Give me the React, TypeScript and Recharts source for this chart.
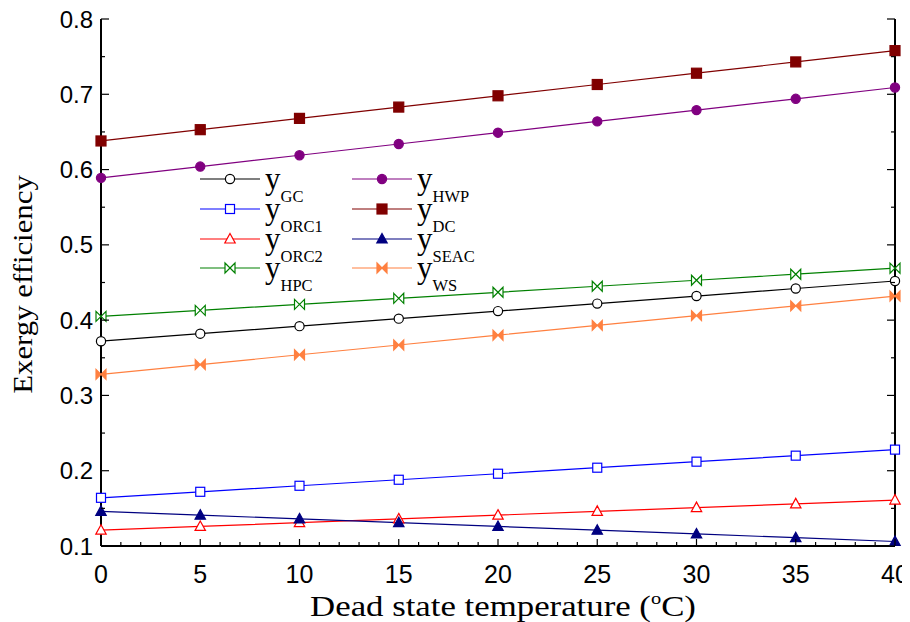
import React from 'react';
import { LineChart, Line, XAxis, YAxis, Legend } from 'recharts';

// values
const temps = [0, 5, 10, 15, 20, 25, 30, 35, 40];
const gc = [0.372, 0.382, 0.392, 0.402, 0.412, 0.422, 0.432, 0.442, 0.452];
const orc1 = [0.164, 0.172, 0.180, 0.188, 0.196, 0.204, 0.212, 0.220, 0.228];
const orc2 = [0.121, 0.126, 0.131, 0.136, 0.141, 0.146, 0.151, 0.156, 0.161];
const hpc = [0.405, 0.413, 0.421, 0.429, 0.437, 0.445, 0.453, 0.461, 0.469];
const hwp = [0.589, 0.604, 0.619, 0.634, 0.649, 0.664, 0.679, 0.694, 0.709];
const dc = [0.638, 0.653, 0.668, 0.683, 0.698, 0.713, 0.728, 0.743, 0.758];
const seac = [0.146, 0.141, 0.136, 0.131, 0.126, 0.121, 0.116, 0.111, 0.106];
const ws = [0.328, 0.341, 0.354, 0.367, 0.380, 0.393, 0.406, 0.419, 0.432];

const xTicks = Array.from({ length: 41 }, (_, i) => i);
const yTicks = [0.1, 0.15, 0.2, 0.25, 0.3, 0.35, 0.4, 0.45, 0.5, 0.55, 0.6, 0.65, 0.7, 0.75, 0.8];

const data = temps.map((t, i) => ({
    t,
    gc: gc[i],
    orc1: orc1[i],
    orc2: orc2[i],
    hpc: hpc[i],
    hwp: hwp[i],
    dc: dc[i],
    seac: seac[i],
    ws: ws[i],
}));

const series = [
    { key: 'gc', sub: 'GC', color: '#000000', shape: 'circleOpen' },
    { key: 'orc1', sub: 'ORC1', color: '#0000FF', shape: 'squareOpen' },
    { key: 'orc2', sub: 'ORC2', color: '#FF0000', shape: 'triOpen' },
    { key: 'hpc', sub: 'HPC', color: '#008000', shape: 'bowOpen' },
    { key: 'hwp', sub: 'HWP', color: '#800080', shape: 'circle' },
    { key: 'dc', sub: 'DC', color: '#800000', shape: 'square' },
    { key: 'seac', sub: 'SEAC', color: '#000080', shape: 'tri' },
    { key: 'ws', sub: 'WS', color: '#FF8040', shape: 'bow' },
];

const SANS = '"Liberation Sans", Arial, sans-serif';
const SERIF = '"Liberation Serif", "Times New Roman", serif';

const Marker = ({ cx, cy, shape, color }: any) => {
    const open = shape.endsWith('Open');
    const fill = open ? '#fff' : color;
    const sw = 1.2;
    if (shape.startsWith('circle')) {
        return <circle cx={cx} cy={cy} r={4.6} fill={fill} stroke={color} strokeWidth={sw} />;
    }
    if (shape.startsWith('square')) {
        const s = open ? 9 : 10;
        return <rect x={cx - s / 2} y={cy - s / 2} width={s} height={s} fill={fill} stroke={color} strokeWidth={sw} />;
    }
    if (shape.startsWith('tri')) {
        return <polygon points={`${cx},${cy - 5.5} ${cx + 5.2},${cy + 4} ${cx - 5.2},${cy + 4}`} fill={fill} stroke={color} strokeWidth={sw} />;
    }
    return <path d={`M${cx - 5},${cy - 5} L${cx + 5},${cy + 5} L${cx + 5},${cy - 5} L${cx - 5},${cy + 5} Z`} fill={fill} stroke={color} strokeWidth={sw} />;
};

const isMajorX = (v: number) => v % 5 === 0;
const isMajorY = (v: number) => Math.round(v * 100) % 10 === 0;

const BottomTick = ({ x, y, payload }: any) => {
    const v = payload.value;
    const major = isMajorX(v);
    return (
        <g>
            <line x1={x} x2={x} y1={y} y2={y - (major ? 7 : 4)} stroke="#000" strokeWidth={1.2} />
            {major && (
                <text x={x} y={y + 37} textAnchor="middle" fontFamily={SANS} fontSize={25} fill="#000">{v}</text>
            )}
        </g>
    );
};

const TopTick = ({ x, y, payload }: any) => {
    const major = isMajorX(payload.value);
    return <line x1={x} x2={x} y1={y} y2={y + (major ? 7 : 4)} stroke="#000" strokeWidth={1.2} />;
};

const LeftTick = ({ x, y, payload }: any) => {
    const v = payload.value;
    const major = isMajorY(v);
    return (
        <g>
            <line x1={x} x2={x + (major ? 8 : 4)} y1={y} y2={y} stroke="#000" strokeWidth={1.2} />
            {major && (
                <text x={x - 8} y={y + 8.5} textAnchor="end" fontFamily={SANS} fontSize={24} fill="#000">{v.toFixed(1)}</text>
            )}
        </g>
    );
};

const RightTick = ({ x, y, payload }: any) => {
    const major = isMajorY(payload.value);
    return <line x1={x} x2={x - (major ? 8 : 4)} y1={y} y2={y} stroke="#000" strokeWidth={1.2} />;
};

const XTitle = ({ viewBox }: any) => {
    const cx = viewBox.x + viewBox.width / 2 + 5;
    const by = viewBox.y + 70;
    return (
        <g transform={`translate(${cx} ${by}) scale(1.2 1)`}>
            <text x={0} y={0} textAnchor="middle" fontFamily={SERIF} fontSize={29} fill="#000">
                Dead state temperature (<tspan fontSize={17} dy={-12}>o</tspan><tspan dy={12}>C)</tspan>
            </text>
        </g>
    );
};

const YTitle = ({ viewBox }: any) => {
    const cx = 24;
    const cy = viewBox.y + viewBox.height / 2 + 2;
    return (
        <g transform={`translate(${cx} ${cy}) rotate(-90) scale(1.1 1)`}>
            <text x={0} y={0} textAnchor="middle" fontFamily={SERIF} fontSize={28} fill="#000">
                Exergy efficiency
            </text>
        </g>
    );
};

const LegendBox = () => {
    const rowY = [19, 49, 79, 108];
    const cols = [{ x0: 10, x1: 70, tx: 75 }, { x0: 162, x1: 222, tx: 227 }];
    return (
        <svg width={320} height={140}>
            {series.map((s, i) => {
                const c = cols[Math.floor(i / 4)];
                const y = rowY[i % 4];
                const mx = (c.x0 + c.x1) / 2;
                return (
                    <g key={s.key}>
                        <line x1={c.x0} x2={c.x1} y1={y} y2={y} stroke={s.color} strokeWidth={1.2} />
                        <Marker cx={mx} cy={y} shape={s.shape} color={s.color} />
                        <text x={c.tx} y={y + 10} fontFamily={SERIF} fontSize={31} fill="#000">
                            y<tspan fontSize={16.5} dy={13}>{s.sub}</tspan>
                        </text>
                    </g>
                );
            })}
        </svg>
    );
};

export default function App() {
    return (
        <div style={{ width: 910, height: 614, background: '#fff' }}>
            <LineChart width={910} height={614} data={data} margin={{ top: 11, right: 0, bottom: 0, left: 0 }}>
                <XAxis
                    dataKey="t"
                    type="number"
                    domain={[0, 40]}
                    ticks={xTicks}
                    interval={0}
                    height={76}
                    tickSize={0}
                    tickMargin={0}
                    tickLine={false}
                    axisLine={{ stroke: '#000', strokeWidth: 2 }}
                    tick={<BottomTick />}
                    label={<XTitle />}
                />
                <XAxis
                    xAxisId="top"
                    orientation="top"
                    dataKey="t"
                    type="number"
                    domain={[0, 40]}
                    ticks={xTicks}
                    interval={0}
                    height={0}
                    tickSize={0}
                    tickMargin={0}
                    tickLine={false}
                    axisLine={{ stroke: '#000', strokeWidth: 2 }}
                    tick={<TopTick />}
                />
                <YAxis
                    type="number"
                    domain={[0.1, 0.8]}
                    ticks={yTicks}
                    interval={0}
                    width={93}
                    tickSize={0}
                    tickMargin={0}
                    tickLine={false}
                    allowDataOverflow
                    axisLine={{ stroke: '#000', strokeWidth: 2 }}
                    tick={<LeftTick />}
                    label={<YTitle />}
                />
                <YAxis
                    yAxisId="right"
                    orientation="right"
                    type="number"
                    domain={[0.1, 0.8]}
                    ticks={yTicks}
                    interval={0}
                    width={23}
                    tickSize={0}
                    tickMargin={0}
                    tickLine={false}
                    allowDataOverflow
                    axisLine={{ stroke: '#000', strokeWidth: 2 }}
                    tick={<RightTick />}
                />
                <Legend
                    layout="vertical"
                    align="center"
                    verticalAlign="middle"
                    content={() => <LegendBox />}
                    wrapperStyle={{ left: 182, top: 152, width: 320, height: 140 }}
                />
                {series.map((s) => (
                    <Line
                        key={s.key}
                        dataKey={s.key}
                        stroke={s.color}
                        strokeWidth={1.2}
                        isAnimationActive={false}
                        dot={(p: any) => <Marker key={`${s.key}-${p.index}`} cx={p.cx} cy={p.cy} shape={s.shape} color={s.color} />}
                        activeDot={false}
                    />
                ))}
            </LineChart>
        </div>
    );
}
